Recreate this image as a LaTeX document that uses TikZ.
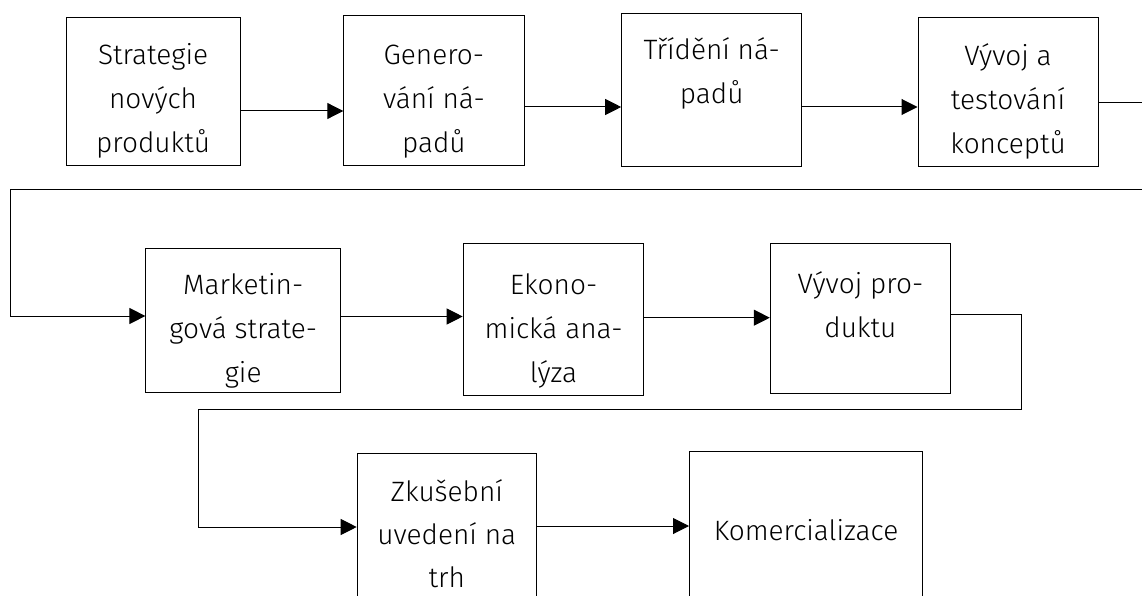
\documentclass[tikz,border=0pt]{standalone}
\usepackage{fontspec}
\setmainfont{Fira Sans Light}
\usetikzlibrary{arrows.meta}
\newcommand\mystrut{\rule{0pt}{30pt}}
\begin{document}
\begin{tikzpicture}[x=1pt,y=-1pt,
  box/.style={draw, line width=1pt, inner sep=0pt, anchor=north west},
  txt/.style={anchor=north, align=center, inner sep=0pt, font={\fontsize{28pt}{44pt}\selectfont}},
  conn/.style={line width=1pt},
  arr/.style={conn, -{Triangle[length=16pt,width=16pt]}}]
\useasboundingbox[fill=white] (0,0) rectangle (1142,596);
% row 1
\node[box, minimum width=174.2pt, minimum height=147.7pt] (b1) at (65.5,17.3) {};
\node[box, minimum width=180.2pt, minimum height=150pt] (b2) at (343.3,15) {};
\node[box, minimum width=180.1pt, minimum height=153pt] (b3) at (621.2,12.7) {};
\node[box, minimum width=180pt, minimum height=149pt] (b4) at (917.5,16.7) {};
% row 2
\node[box, minimum width=194.6pt, minimum height=144pt] (b5) at (145.4,248.3) {};
\node[box, minimum width=180.7pt, minimum height=152pt] (b6) at (462.7,243) {};
\node[box, minimum width=180.2pt, minimum height=150.1pt] (b7) at (769.8,242.7) {};
% row 3
\node[box, minimum width=179.1pt, minimum height=170pt] (b8) at (356.7,453) {};
\node[box, minimum width=233pt, minimum height=172pt] (b9) at (689,451) {};
% texts
\node[txt] (t1) at (b1.north |- 0,34) {\mystrut Strategie\\nových\\produktů};
\node[txt] (t2) at (b2.north |- 0,34) {\mystrut Genero-\\vání ná-\\padů};
\node[txt] (t3) at (b3.north |- 0,29) {\mystrut Třídění ná-\\padů};
\node[txt] (t4) at (b4.north |- 0,35) {\mystrut Vývoj a\\testování\\konceptů};
\node[txt] (t5) at (b5.north |- 0,264) {\mystrut Marketin-\\gová strate-\\gie};
\node[txt] (t6) at (b6.north |- 0,264) {\mystrut Ekono-\\mická ana-\\lýza};
\node[txt] (t7) at (b7.north |- 0,263) {\mystrut Vývoj pro-\\duktu};
\node[txt, font={\fontsize{28pt}{43pt}\selectfont}] (t8) at (b8.north |- 0,471) {\mystrut Zkušební\\uvedení na\\trh};
\node[txt] (t9) at (b9.north |- 0,510) {\mystrut Komercializace};
% connectors
\draw[arr] (b1.east |- 0,111) -- (b2.west |- 0,111);
\draw[arr] (b2.east |- 0,107) -- (b3.west |- 0,107);
\draw[arr] (b3.east |- 0,107) -- (b4.west |- 0,107);
\coordinate (r1) at (1165,103);
\coordinate (r2) at (1165,189.5);
\coordinate (l1) at (10,189.5);
\draw[arr] (b4.east |- 0,103) -- (r1) -- (r2) -- (l1) -- (l1 |- 0,316) -- (b5.west |- 0,316);
\draw[arr] (b5.east |- 0,316.5) -- (b6.west |- 0,316.5);
\draw[arr] (b6.east |- 0,317.7) -- (b7.west |- 0,317.7);
\coordinate (r3) at (1021.4,314.7);
\coordinate (r4) at (1021.4,409.5);
\coordinate (l2) at (198.5,409.5);
\draw[arr] (b7.east |- 0,314.7) -- (r3) -- (r4) -- (l2) -- (l2 |- 0,527) -- (b8.west |- 0,527);
\draw[arr] (b8.east |- 0,526) -- (b9.west |- 0,526);
\end{tikzpicture}
\end{document}
